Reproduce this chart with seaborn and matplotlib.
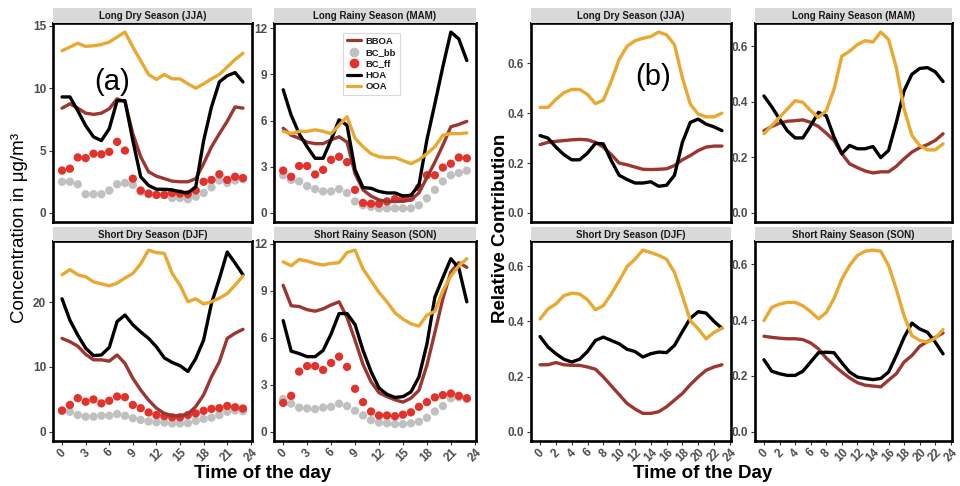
import numpy as np
import pandas as pd
import matplotlib
matplotlib.use("Agg")
import matplotlib.pyplot as plt
import seaborn as sns
from matplotlib.lines import Line2D

sns.set_style("white")
plt.rcParams["font.family"] = ["Liberation Sans", "DejaVu Sans"]

hours = list(range(24))
seasons = ["Long Dry Season (JJA)", "Long Rainy Season (MAM)",
           "Short Dry Season (DJF)", "Short Rainy Season (SON)"]
season_keys = ["JJA", "MAM", "DJF", "SON"]

# ---------------- (a) concentrations (ug/m3) ----------------
bboa_jja = [8.4, 8.75, 8.4, 8.0, 7.9, 8.0, 8.35, 9.15, 8.9, 6.35, 4.5, 3.3, 2.95, 2.75, 2.55, 2.5, 2.5, 2.75, 3.95, 5.3, 6.35, 7.35, 8.5, 8.4]
bcbb_jja = [2.5, 2.5, 2.3, 1.5, 1.5, 1.5, 1.8, 2.3, 2.4, 2.25, 1.7, 1.5, 1.45, 1.45, 1.2, 1.2, 1.1, 1.3, 1.6, 2.05, 2.6, 2.4, 2.6, 2.7]
bcff_jja = [3.4, 3.55, 4.45, 4.4, 4.75, 4.7, 4.9, 5.7, 5.0, 2.75, 1.8, 1.55, 1.45, 1.45, 1.6, 1.55, 1.5, 1.8, 2.5, 2.65, 3.1, 2.65, 2.9, 2.8]
hoa_jja = [9.3, 9.3, 8.2, 7.0, 6.1, 5.8, 6.75, 9.0, 9.0, 5.8, 2.9, 2.2, 1.9, 1.9, 1.85, 1.7, 1.6, 2.1, 5.8, 8.5, 10.5, 11.0, 11.25, 10.5]
ooa_jja = [13.0, 13.3, 13.6, 13.35, 13.4, 13.5, 13.7, 14.1, 14.5, 13.3, 12.2, 11.1, 10.7, 11.1, 10.75, 10.75, 10.35, 10.0, 10.35, 10.75, 11.1, 11.7, 12.3, 12.8]

bboa_mam = [5.5, 5.05, 4.85, 4.6, 4.5, 4.5, 4.75, 4.95, 4.6, 2.55, 1.5, 1.1, 0.85, 0.75, 0.75, 0.75, 0.85, 1.3, 2.3, 3.3, 4.4, 5.6, 5.75, 5.95]
bcbb_mam = [2.45, 2.15, 2.05, 1.75, 1.55, 1.4, 1.4, 1.55, 1.3, 0.75, 0.5, 0.4, 0.3, 0.3, 0.3, 0.3, 0.3, 0.5, 0.95, 1.5, 2.05, 2.45, 2.6, 2.75]
bcff_mam = [2.75, 2.35, 3.05, 3.05, 2.5, 2.8, 3.45, 3.65, 3.3, 1.5, 0.65, 0.6, 0.6, 0.75, 0.9, 0.95, 1.0, 1.65, 2.45, 2.45, 2.95, 3.2, 3.6, 3.55]
hoa_mam = [8.0, 6.35, 5.15, 4.3, 3.55, 3.55, 4.75, 6.05, 5.7, 2.8, 1.65, 1.6, 1.4, 1.3, 1.3, 1.1, 1.15, 1.8, 4.75, 7.1, 9.5, 11.75, 11.3, 9.9]
ooa_mam = [5.3, 5.15, 5.3, 5.3, 5.4, 5.3, 5.15, 5.7, 6.25, 4.85, 4.3, 3.85, 3.65, 3.6, 3.6, 3.4, 3.2, 3.45, 3.85, 4.3, 5.05, 5.15, 5.15, 5.2]

bboa_djf = [14.4, 13.9, 13.2, 11.95, 11.1, 11.1, 10.9, 11.85, 10.55, 8.25, 6.45, 4.9, 3.65, 2.85, 2.5, 2.5, 2.75, 3.9, 5.7, 8.5, 10.8, 14.4, 15.2, 15.8]
bcbb_djf = [3.2, 3.1, 2.6, 2.35, 2.35, 2.5, 2.5, 2.75, 2.5, 2.1, 1.85, 1.6, 1.5, 1.45, 1.3, 1.3, 1.35, 1.7, 2.0, 2.2, 2.6, 3.1, 3.3, 3.2]
bcff_djf = [3.3, 4.15, 5.2, 4.65, 5.0, 4.4, 4.8, 5.45, 5.35, 4.15, 3.65, 3.0, 2.6, 2.45, 2.25, 2.25, 2.6, 2.85, 3.25, 3.55, 3.65, 4.0, 3.8, 3.6]
hoa_djf = [20.5, 17.2, 14.9, 12.9, 11.75, 11.85, 13.0, 17.0, 18.0, 16.5, 15.4, 14.4, 13.1, 11.4, 10.7, 10.2, 9.3, 11.3, 14.15, 19.8, 23.6, 27.7, 26.0, 24.2]
ooa_djf = [24.2, 25.0, 24.2, 23.9, 23.1, 22.8, 22.5, 22.9, 23.7, 24.4, 25.9, 28.0, 27.6, 27.5, 24.4, 22.6, 20.05, 20.5, 19.7, 20.05, 20.6, 21.3, 22.6, 24.0]

bboa_son = [9.35, 8.05, 8.0, 7.8, 7.7, 7.85, 8.1, 8.3, 7.3, 5.85, 4.3, 3.2, 2.5, 2.25, 2.05, 1.9, 2.15, 2.65, 4.25, 6.35, 8.5, 10.2, 10.8, 10.5]
bcbb_son = [2.1, 1.8, 1.55, 1.5, 1.45, 1.55, 1.6, 1.8, 1.65, 1.35, 1.05, 0.75, 0.6, 0.55, 0.5, 0.5, 0.55, 0.65, 0.9, 1.3, 1.65, 2.15, 2.2, 2.1]
bcff_son = [1.85, 2.3, 3.85, 4.2, 4.2, 3.95, 4.4, 4.8, 4.15, 2.75, 1.9, 1.3, 1.05, 1.05, 1.0, 1.1, 1.25, 1.6, 1.9, 2.2, 2.35, 2.45, 2.3, 2.15]
hoa_son = [7.1, 5.15, 5.0, 4.8, 4.8, 5.2, 6.25, 7.55, 7.55, 6.85, 5.2, 3.85, 2.8, 2.4, 2.2, 2.25, 2.55, 3.5, 5.6, 8.6, 9.85, 11.05, 10.45, 8.3]
ooa_son = [10.85, 10.6, 11.0, 10.9, 10.75, 10.65, 10.75, 10.8, 11.45, 11.6, 10.4, 9.65, 8.9, 8.3, 7.6, 7.2, 6.9, 6.75, 7.45, 7.7, 9.0, 9.95, 10.6, 11.05]

# ---------------- (b) relative contributions ----------------
rel_bboa_jja = [0.274, 0.283, 0.287, 0.29, 0.293, 0.295, 0.293, 0.283, 0.264, 0.234, 0.20, 0.193, 0.184, 0.175, 0.174, 0.175, 0.177, 0.19, 0.213, 0.23, 0.25, 0.264, 0.268, 0.268]
rel_hoa_jja = [0.31, 0.30, 0.264, 0.234, 0.213, 0.213, 0.24, 0.279, 0.277, 0.21, 0.151, 0.134, 0.12, 0.12, 0.125, 0.107, 0.111, 0.151, 0.283, 0.363, 0.376, 0.356, 0.345, 0.33]
rel_ooa_jja = [0.423, 0.423, 0.455, 0.482, 0.495, 0.495, 0.475, 0.438, 0.452, 0.528, 0.615, 0.668, 0.69, 0.70, 0.707, 0.725, 0.714, 0.674, 0.542, 0.436, 0.396, 0.385, 0.385, 0.40]

rel_bboa_mam = [0.296, 0.311, 0.323, 0.33, 0.332, 0.335, 0.326, 0.311, 0.287, 0.261, 0.213, 0.177, 0.163, 0.151, 0.144, 0.148, 0.148, 0.168, 0.195, 0.219, 0.235, 0.246, 0.261, 0.285]
rel_hoa_mam = [0.421, 0.382, 0.338, 0.296, 0.27, 0.27, 0.314, 0.362, 0.35, 0.273, 0.213, 0.243, 0.231, 0.231, 0.239, 0.199, 0.225, 0.326, 0.44, 0.499, 0.52, 0.523, 0.508, 0.473]
rel_ooa_mam = [0.285, 0.314, 0.344, 0.374, 0.404, 0.398, 0.368, 0.344, 0.368, 0.445, 0.564, 0.582, 0.606, 0.62, 0.615, 0.651, 0.624, 0.523, 0.374, 0.279, 0.243, 0.227, 0.227, 0.249]

rel_bboa_djf = [0.243, 0.243, 0.251, 0.243, 0.241, 0.241, 0.235, 0.227, 0.199, 0.167, 0.135, 0.103, 0.083, 0.067, 0.067, 0.073, 0.091, 0.115, 0.139, 0.171, 0.199, 0.223, 0.235, 0.243]
rel_hoa_djf = [0.345, 0.307, 0.283, 0.263, 0.253, 0.263, 0.291, 0.331, 0.343, 0.331, 0.319, 0.299, 0.291, 0.271, 0.283, 0.289, 0.287, 0.313, 0.363, 0.411, 0.435, 0.43, 0.40, 0.375]
rel_ooa_djf = [0.409, 0.445, 0.463, 0.493, 0.502, 0.499, 0.478, 0.442, 0.457, 0.499, 0.547, 0.598, 0.625, 0.658, 0.649, 0.639, 0.625, 0.577, 0.493, 0.403, 0.373, 0.337, 0.36, 0.375]

rel_bboa_son = [0.342, 0.338, 0.335, 0.333, 0.333, 0.33, 0.318, 0.297, 0.264, 0.238, 0.214, 0.193, 0.176, 0.167, 0.164, 0.161, 0.185, 0.208, 0.25, 0.273, 0.306, 0.323, 0.338, 0.354]
rel_hoa_son = [0.258, 0.217, 0.208, 0.202, 0.202, 0.217, 0.25, 0.283, 0.285, 0.283, 0.247, 0.214, 0.196, 0.191, 0.187, 0.191, 0.214, 0.273, 0.338, 0.389, 0.368, 0.356, 0.321, 0.279]
rel_ooa_son = [0.398, 0.445, 0.457, 0.463, 0.463, 0.451, 0.43, 0.404, 0.427, 0.477, 0.546, 0.595, 0.631, 0.646, 0.65, 0.646, 0.595, 0.51, 0.415, 0.344, 0.327, 0.321, 0.335, 0.366]

conc_ticks = {"JJA": [0, 5, 10, 15], "MAM": [0, 3, 6, 9, 12],
              "DJF": [0, 10, 20], "SON": [0, 3, 6, 9, 12]}
rel_ticks = [0.0, 0.2, 0.4, 0.6]
a_xticks = list(range(0, 25, 3))
b_xticks = list(range(0, 25, 2))

colors = {"BBOA": "#9C3631", "BC_bb": "#C0C0C0", "BC_ff": "#E1322B",
          "HOA": "#000000", "OOA": "#E9A82F"}

conc = {
    "JJA": {"BBOA": bboa_jja, "BC_bb": bcbb_jja, "BC_ff": bcff_jja, "HOA": hoa_jja, "OOA": ooa_jja},
    "MAM": {"BBOA": bboa_mam, "BC_bb": bcbb_mam, "BC_ff": bcff_mam, "HOA": hoa_mam, "OOA": ooa_mam},
    "DJF": {"BBOA": bboa_djf, "BC_bb": bcbb_djf, "BC_ff": bcff_djf, "HOA": hoa_djf, "OOA": ooa_djf},
    "SON": {"BBOA": bboa_son, "BC_bb": bcbb_son, "BC_ff": bcff_son, "HOA": hoa_son, "OOA": ooa_son},
}
rel = {
    "JJA": {"BBOA": rel_bboa_jja, "HOA": rel_hoa_jja, "OOA": rel_ooa_jja},
    "MAM": {"BBOA": rel_bboa_mam, "HOA": rel_hoa_mam, "OOA": rel_ooa_mam},
    "DJF": {"BBOA": rel_bboa_djf, "HOA": rel_hoa_djf, "OOA": rel_ooa_djf},
    "SON": {"BBOA": rel_bboa_son, "HOA": rel_hoa_son, "OOA": rel_ooa_son},
}

W, H = 960, 486
fig = plt.figure(figsize=(W / 100, H / 100), dpi=100)
fig.patch.set_facecolor("white")


def px_axes(l, t, r, b):
    return fig.add_axes([l / W, 1 - b / H, (r - l) / W, (b - t) / H])


TICK_COL = "#4D4D4D"


def style_panel(ax, yticks, yfmt, xticks, show_x):
    ax.set_facecolor("white")
    for s in ax.spines.values():
        s.set_visible(True)
        s.set_color("black")
        s.set_linewidth(1.9)
    ax.set_xlim(-1.15, 24.15)
    ax.set_yticks(yticks)
    ax.set_yticklabels([yfmt(v) for v in yticks], fontsize=8.5, fontweight="bold", color=TICK_COL)
    ax.tick_params(axis="y", direction="out", length=3, width=0.8, color="#333333", pad=2, left=True)
    if show_x:
        ax.set_xticks(xticks)
        ax.set_xticklabels([str(v) for v in xticks], rotation=45, ha="center",
                           fontsize=8.5, fontweight="bold", color=TICK_COL)
        ax.tick_params(axis="x", direction="out", length=3, width=0.8, color="#333333", pad=1, bottom=True)
    else:
        ax.set_xticks([])
    ax.set_xlabel("")
    ax.set_ylabel("")
    ax.grid(False)


def strip(l, t, r, b, text):
    sa = px_axes(l, t, r, b)
    sa.set_facecolor("#D9D9D9")
    for s in sa.spines.values():
        s.set_visible(False)
    sa.set_xticks([])
    sa.set_yticks([])
    sa.text(0.5, 0.45, text, ha="center", va="center", fontsize=7, fontweight="bold",
            color="#1A1A1A", transform=sa.transAxes)


a_boxes = [(53, 23, 252, 222), (274, 23, 476, 222), (53, 241, 252, 441), (274, 241, 476, 441)]
b_boxes = [(531, 23, 731, 222), (755, 23, 952, 222), (531, 241, 731, 441), (755, 241, 952, 441)]
strip_h = [(8, 23), (8, 23), (227, 241), (227, 241)]

for i, key in enumerate(season_keys):
    # ---- (a) ----
    l, t, r, b = a_boxes[i]
    ax = px_axes(l, t, r, b)
    d = conc[key]
    pts = pd.DataFrame({"hour": hours * 2,
                        "value": d["BC_bb"] + d["BC_ff"],
                        "species": ["BC_bb"] * 24 + ["BC_ff"] * 24})
    lines = pd.DataFrame({"hour": hours * 3,
                          "value": d["BBOA"] + d["HOA"] + d["OOA"],
                          "species": ["BBOA"] * 24 + ["HOA"] * 24 + ["OOA"] * 24})
    sns.scatterplot(data=pts, x="hour", y="value", hue="species", palette=colors,
                    s=36, linewidth=0, legend=False, ax=ax, zorder=2)
    sns.lineplot(data=lines, x="hour", y="value", hue="species", palette=colors,
                 estimator=None, linewidth=2.4, legend=False, ax=ax, zorder=3)
    m = max(max(v) for v in d.values())
    ax.set_ylim(-0.05 * m, 1.05 * m)
    style_panel(ax, conc_ticks[key], lambda v: f"{v:g}", a_xticks, i >= 2)
    st, sb = strip_h[i]
    strip(l, st, r, sb, seasons[i])

    # ---- (b) ----
    l, t, r, b = b_boxes[i]
    ax = px_axes(l, t, r, b)
    d = rel[key]
    lines = pd.DataFrame({"hour": hours * 3,
                          "value": d["BBOA"] + d["HOA"] + d["OOA"],
                          "species": ["BBOA"] * 24 + ["HOA"] * 24 + ["OOA"] * 24})
    sns.lineplot(data=lines, x="hour", y="value", hue="species", palette=colors,
                 estimator=None, linewidth=2.4, legend=False, ax=ax, zorder=3)
    m = max(max(v) for v in d.values())
    ax.set_ylim(-0.05 * m, 1.05 * m)
    style_panel(ax, rel_ticks, lambda v: f"{v:.1f}", b_xticks, i >= 2)
    strip(l, st, r, sb, seasons[i])

# legend (in Long Rainy Season panel)
handles = [
    Line2D([], [], color=colors["BBOA"], lw=2.3),
    Line2D([], [], color=colors["BC_bb"], lw=0, marker="o", markersize=6),
    Line2D([], [], color=colors["BC_ff"], lw=0, marker="o", markersize=6),
    Line2D([], [], color=colors["HOA"], lw=2.3),
    Line2D([], [], color=colors["OOA"], lw=2.3),
]
leg = fig.legend(handles, ["BBOA", "BC_bb", "BC_ff", "HOA", "OOA"],
                 loc="upper left", bbox_to_anchor=(343 / W, 1 - 33 / H),
                 prop={"size": 6.8, "weight": "bold"}, frameon=True, fancybox=False,
                 handlelength=1.5, handletextpad=0.5, labelspacing=0.25,
                 borderpad=0.4, borderaxespad=0)
leg.get_frame().set_edgecolor("#D0D0D0")
leg.get_frame().set_linewidth(0.8)
for txt in leg.get_texts():
    txt.set_color("#1A1A1A")

# axis titles
fig.text(20 / W, 1 - 228 / H, "Concentration in μg/m³", rotation=90, ha="center", va="center",
         fontsize=13.5, color="black")
fig.text(500 / W, 1 - 228 / H, "Relative Contribution", rotation=90, ha="center", va="center",
         fontsize=13.5, fontweight="bold", color="black")
fig.text(263 / W, 1 - 473 / H, "Time of the day", ha="center", va="center",
         fontsize=13.5, fontweight="bold", color="black")
fig.text(703 / W, 1 - 473 / H, "Time of the Day", ha="center", va="center",
         fontsize=13.5, fontweight="bold", color="black")

# panel tags
fig.text(112 / W, 1 - 82 / H, "(a)", ha="center", va="center", fontsize=21, color="black")
fig.text(653 / W, 1 - 77 / H, "(b)", ha="center", va="center", fontsize=21, color="black")

fig.savefig("out.png", dpi=100, facecolor="white")
